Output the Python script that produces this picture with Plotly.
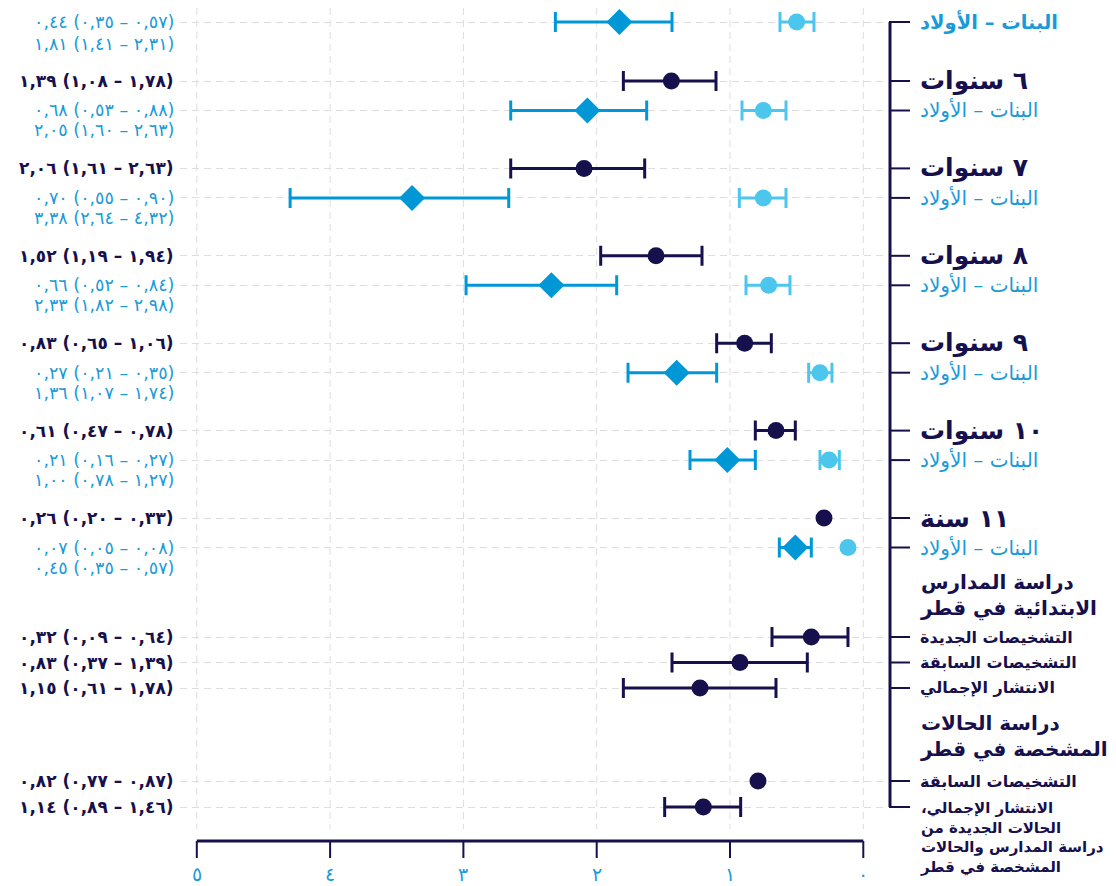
import plotly.graph_objects as go

# page offset of the figure (default body margin) and figure size
OFF = 8
W, H = 1116 - OFF, 886 - OFF

# ---------------- data ----------------
x_tick_vals = [0, 1, 2, 3, 4, 5]
x_tick_text = ["٠", "١", "٢", "٣", "٤", "٥"]

gb_label = "البنات – الأولاد"
age_labels = ["٦ سنوات", "٧ سنوات", "٨ سنوات", "٩ سنوات", "١٠ سنوات", "١١ سنة"]

# dark navy: age-group prevalence
age_est = [1.44, 2.095, 1.555, 0.89, 0.655, 0.295]
age_lo = [1.105, 1.64, 1.21, 0.69, 0.51, None]
age_hi = [1.80, 2.645, 1.97, 1.10, 0.81, None]
age_text = ["١,٣٩ (١,٠٨ – ١,٧٨)", "٢,٠٦ (١,٦١ – ٢,٦٣)", "١,٥٢ (١,١٩ – ١,٩٤)",
            "٠,٨٣ (٠,٦٥ – ١,٠٦)", "٠,٦١ (٠,٤٧ – ٠,٧٨)", "٠,٢٦ (٠,٢٠ – ٠,٣٣)"]

# girls - boys rows (first = overall, then each age): light circles
gb_c_est = [0.50, 0.75, 0.75, 0.71, 0.325, 0.257, 0.115]
gb_c_lo = [0.37, 0.58, 0.58, 0.55, 0.235, 0.18, None]
gb_c_hi = [0.625, 0.91, 0.93, 0.88, 0.41, 0.325, None]
gb_c_text = ["٠,٤٤ (٠,٣٥ – ٠,٥٧)", "٠,٦٨ (٠,٥٣ – ٠,٨٨)", "٠,٧٠ (٠,٥٥ – ٠,٩٠)",
             "٠,٦٦ (٠,٥٢ – ٠,٨٤)", "٠,٢٧ (٠,٢١ – ٠,٣٥)", "٠,٢١ (٠,١٦ – ٠,٢٧)",
             "٠,٠٧ (٠,٠٥ – ٠,٠٨)"]
# girls - boys rows: diamonds
gb_d_est = [1.83, 2.07, 3.385, 2.34, 1.40, 1.02, 0.51]
gb_d_lo = [1.435, 1.625, 2.66, 1.85, 1.10, 0.81, 0.39]
gb_d_hi = [2.31, 2.645, 4.30, 2.98, 1.765, 1.30, 0.63]
gb_d_text = ["١,٨١ (١,٤١ – ٢,٣١)", "٢,٠٥ (١,٦٠ – ٢,٦٣)", "٣,٣٨ (٢,٦٤ – ٤,٣٢)",
             "٢,٣٣ (١,٨٢ – ٢,٩٨)", "١,٣٦ (١,٠٧ – ١,٧٤)", "١,٠٠ (٠,٧٨ – ١,٢٧)",
             "٠,٤٥ (٠,٣٥ – ٠,٥٧)"]

school_header = "دراسة المدارس<br>الابتدائية في قطر"
school_labels = ["التشخيصات الجديدة", "التشخيصات السابقة", "الانتشار الإجمالي"]
school_est = [0.39, 0.925, 1.225]
school_lo = [0.115, 0.42, 0.655]
school_hi = [0.685, 1.435, 1.80]
school_text = ["٠,٣٢ (٠,٠٩ – ٠,٦٤)", "٠,٨٣ (٠,٣٧ – ١,٣٩)", "١,١٥ (٠,٦١ – ١,٧٨)"]

clinic_header = "دراسة الحالات<br>المشخصة في قطر"
clinic_labels = ["التشخيصات السابقة",
                 "الانتشار الإجمالي،\u200f<br>الحالات الجديدة من<br>دراسة المدارس والحالات<br>المشخصة في قطر"]
clinic_est = [0.79, 1.20]
clinic_lo = [None, 0.92]
clinic_hi = [None, 1.49]
clinic_text = ["٠,٨٢ (٠,٧٧ – ٠,٨٧)", "١,١٤ (٠,٨٩ – ١,٤٦)"]

# ---------------- styling / layout ----------------
NAVY = "#16104d"
LIGHT = "#4cc6ec"
BLUE = "#0097d7"
TXT_BLUE = "#1a9ad8"
GRID = "#dedede"
FONT = "DejaVu Sans"

# row positions in screen pixels (y axis is mapped 1:1 on screen pixels)
Y_TOP = 22
AGE0, AGE_PITCH, SUB = 81, 87.4, 29.5
age_y = [AGE0 + AGE_PITCH * i for i in range(len(age_labels))]
gb_y = [Y_TOP] + [y + SUB for y in age_y]
school_y = [637, 662.5, 688]
clinic_y = [781, 807]
all_rows = gb_y + age_y + school_y + clinic_y

PLOT_L, PLOT_R = 180, 885
X0_PX, PX_PER = 863.3, 133.3
x_range = [(X0_PX - PLOT_L) / PX_PER, (X0_PX - PLOT_R) / PX_PER]

fig = go.Figure()


def add_point(x, lo, hi, y, color, symbol, size):
    tr = dict(x=[x], y=[y], mode="markers",
              marker=dict(color=color, symbol=symbol, size=size, line=dict(width=0)),
              hoverinfo="skip", showlegend=False)
    if lo is not None and hi is not None:
        tr["error_x"] = dict(type="data", symmetric=False, array=[hi - x],
                             arrayminus=[x - lo], color=color, thickness=3, width=10)
    fig.add_trace(go.Scatter(**tr))


for i in range(len(gb_y)):
    add_point(gb_c_est[i], gb_c_lo[i], gb_c_hi[i], gb_y[i], LIGHT, "circle", 17)
    add_point(gb_d_est[i], gb_d_lo[i], gb_d_hi[i], gb_y[i], BLUE, "diamond", 20)
for i in range(len(age_y)):
    add_point(age_est[i], age_lo[i], age_hi[i], age_y[i], NAVY, "circle", 17)
for i in range(len(school_y)):
    add_point(school_est[i], school_lo[i], school_hi[i], school_y[i], NAVY, "circle", 17)
for i in range(len(clinic_y)):
    add_point(clinic_est[i], clinic_lo[i], clinic_hi[i], clinic_y[i], NAVY, "circle", 17)


def px(x):
    return (x - OFF) / W


def py(y):
    return 1 - (y - OFF) / H


def ltr(s):
    return "\u202d" + s + "\u202c"


ann = []


def left_text(s, y, color, bold):
    ann.append(dict(x=px(176), y=py(y), xref="paper", yref="paper", xanchor="right",
                    yanchor="middle", text=ltr(s), showarrow=False,
                    font=dict(family=FONT, size=17 if bold else 17.5, color=color,
                              weight="bold" if bold else "normal")))


def right_text(s, y, color, size, bold, lines=1, lh=None):
    lh = lh if lh else size * 1.3
    yc = y + (lines - 1) * lh / 2
    ann.append(dict(x=px(918), y=py(yc), xref="paper", yref="paper", xanchor="left",
                    yanchor="middle", align="left", text=s, showarrow=False,
                    font=dict(family=FONT, size=size, color=color,
                              weight="bold" if bold else "normal")))


# left value texts
for i in range(len(gb_y)):
    left_text(gb_c_text[i], gb_y[i], TXT_BLUE, False)
    left_text(gb_d_text[i], gb_y[i] + (22 if i == 0 else 20), TXT_BLUE, False)
for i in range(len(age_y)):
    left_text(age_text[i], age_y[i], NAVY, True)
for i in range(len(school_y)):
    left_text(school_text[i], school_y[i], NAVY, True)
for i in range(len(clinic_y)):
    left_text(clinic_text[i], clinic_y[i], NAVY, True)

# right labels
right_text(gb_label, gb_y[0], TXT_BLUE, 19.5, True)
for i in range(len(age_y)):
    right_text(age_labels[i], age_y[i], NAVY, 25, True)
    right_text(gb_label, gb_y[i + 1], TXT_BLUE, 20, False)
right_text(school_header, 582, NAVY, 20, True, lines=2, lh=26)
for i in range(len(school_y)):
    right_text(school_labels[i], school_y[i], NAVY, 16, True)
right_text(clinic_header, 723, NAVY, 20, True, lines=2, lh=26)
right_text(clinic_labels[0], clinic_y[0], NAVY, 16, True)
right_text(clinic_labels[1], clinic_y[1], NAVY, 15, True, lines=4, lh=20)

# x tick labels
for v, t in zip(x_tick_vals, x_tick_text):
    ann.append(dict(x=v, y=873.5, xref="x", yref="y", xanchor="center", yanchor="middle",
                    text=t, showarrow=False,
                    font=dict(family=FONT, size=19, color=TXT_BLUE)))

shapes = []
# vertical dashed grid lines
for v in x_tick_vals:
    shapes.append(dict(type="line", xref="x", yref="y", x0=v, x1=v, y0=OFF, y1=829,
                       line=dict(color=GRID, width=1, dash="7px,5px"), layer="below"))
# x axis base line + ticks
shapes.append(dict(type="line", xref="x", yref="y", x0=0, x1=5, y0=841, y1=841,
                   line=dict(color=NAVY, width=3)))
for v in x_tick_vals:
    shapes.append(dict(type="line", xref="x", yref="y", x0=v, x1=v, y0=841, y1=858,
                       line=dict(color=NAVY, width=2)))
# right bracket
shapes.append(dict(type="line", xref="paper", yref="paper", x0=px(890), x1=px(890),
                   y0=py(Y_TOP), y1=py(clinic_y[-1]), line=dict(color=NAVY, width=3)))
for y in all_rows:
    shapes.append(dict(type="line", xref="paper", yref="paper", x0=px(889), x1=px(910),
                       y0=py(y), y1=py(y), line=dict(color=NAVY, width=2)))

fig.update_layout(
    width=W, height=H,
    margin=dict(l=0, r=0, t=0, b=0),
    paper_bgcolor="white", plot_bgcolor="white",
    showlegend=False,
    xaxis=dict(domain=[px(PLOT_L), px(PLOT_R)], range=x_range, showgrid=False,
               zeroline=False, showticklabels=False, ticks="", showline=False,
               fixedrange=True),
    yaxis=dict(domain=[0, 1], range=[OFF + H, OFF], tickvals=all_rows,
               showticklabels=False, ticks="", showgrid=True, gridcolor=GRID,
               gridwidth=1, griddash="7px,5px", zeroline=False, showline=False,
               fixedrange=True),
    annotations=ann,
    shapes=shapes,
    font=dict(family=FONT),
)

fig.write_html("out.html")
